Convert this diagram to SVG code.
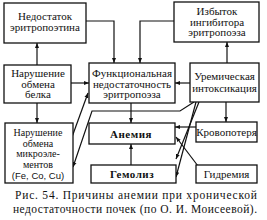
<svg xmlns="http://www.w3.org/2000/svg" width="267" height="220" viewBox="0 0 267 220">
<defs>
<marker id="ah" viewBox="0 0 10 10" refX="10" refY="5" markerWidth="5" markerHeight="5" orient="auto" markerUnits="userSpaceOnUse">
<path d="M0,1 L10,5 L0,9 Z" fill="#111"/>
</marker>
</defs>
<style>
rect{fill:#fff;stroke:#111;stroke-width:1.3}
text{font-family:'Liberation Serif','DejaVu Serif',serif;font-size:11px;fill:#111;text-anchor:middle}
.b{font-weight:bold;letter-spacing:0.5px}
.m{font-size:10px}
.s{font-family:'Liberation Sans','DejaVu Sans',sans-serif;font-size:9.5px}
.c{text-anchor:start;font-size:11.5px}
#connectors path{fill:none;stroke:#111;stroke-width:1.2;marker-end:url(#ah)}
</style>
<rect x="0" y="0" width="267" height="220" style="fill:#fff;stroke:none"/>
<g id="connectors">
<path d="M86,21 H114 V63"/>
<path d="M174,21 H140 V63"/>
<path d="M37,65 V43"/>
<path d="M37,103 V123"/>
<path d="M71,83 H89"/>
<path d="M190,83 H175"/>
<path d="M227,63 V42"/>
<path d="M226,102 V122"/>
<path d="M131,103 V123"/>
<path d="M131,165 V144"/>
<path d="M196,127 H175"/>
<path d="M198,166 L176,137"/>
<path d="M196,102 L176,177"/>
<path d="M199,102 L176,159"/>
<path d="M194,102 L180,111 H92 L73,167"/>
<path d="M72,137 L88,93"/>
</g>
<g id="n1"><rect x="4" y="3" width="82" height="40"/><text x="45" y="20">Недостаток</text><text x="45" y="31">эритропоэтина</text></g>
<g id="n2"><rect x="174" y="2" width="85" height="40"/><text x="217" y="15">Избыток</text><text x="217" y="25.5">ингибитора</text><text x="217" y="36">эритропоэза</text></g>
<g id="n3"><rect x="4" y="65" width="67" height="38"/><text x="38" y="77">Нарушение</text><text x="38" y="87.5">обмена</text><text x="38" y="98">белка</text></g>
<g id="n4"><rect x="5" y="123" width="68" height="60"/><text class="m" x="38" y="136">Нарушение</text><text class="m" x="38" y="146.5">обмена</text><text class="m" x="38" y="157">микроэле-</text><text class="m" x="38" y="167.5">ментов</text><text x="38" y="179" class="s">(Fe, Co, Cu)</text></g>
<g id="n5"><rect x="89" y="63" width="86" height="40"/><text x="132" y="77">Функциональная</text><text x="132" y="87.5">недостаточность</text><text x="132" y="98">эритропоэза</text></g>
<g id="n6"><rect x="190" y="63" width="69" height="39"/><text x="224.5" y="80">Уремическая</text><text x="224.5" y="92">интоксикация</text></g>
<g id="n7"><rect x="89" y="123" width="86" height="21"/><text x="131" y="137.5" class="b">Анемия</text></g>
<g id="n8"><rect x="91" y="165" width="85" height="18"/><text x="132" y="178" class="b">Гемолиз</text></g>
<g id="n9"><rect x="196" y="122" width="61" height="20"/><text x="226.5" y="136">Кровопотеря</text></g>
<g id="n10"><rect x="196" y="165" width="61" height="18"/><text x="226.5" y="178">Гидремия</text></g>
<text class="c" x="15" y="199" textLength="242" lengthAdjust="spacing">Рис. 54. Причины анемии при хронической</text>
<text class="c" x="13" y="212.5" textLength="244" lengthAdjust="spacing">недостаточности почек (по О. И. Моисеевой).</text>
</svg>
